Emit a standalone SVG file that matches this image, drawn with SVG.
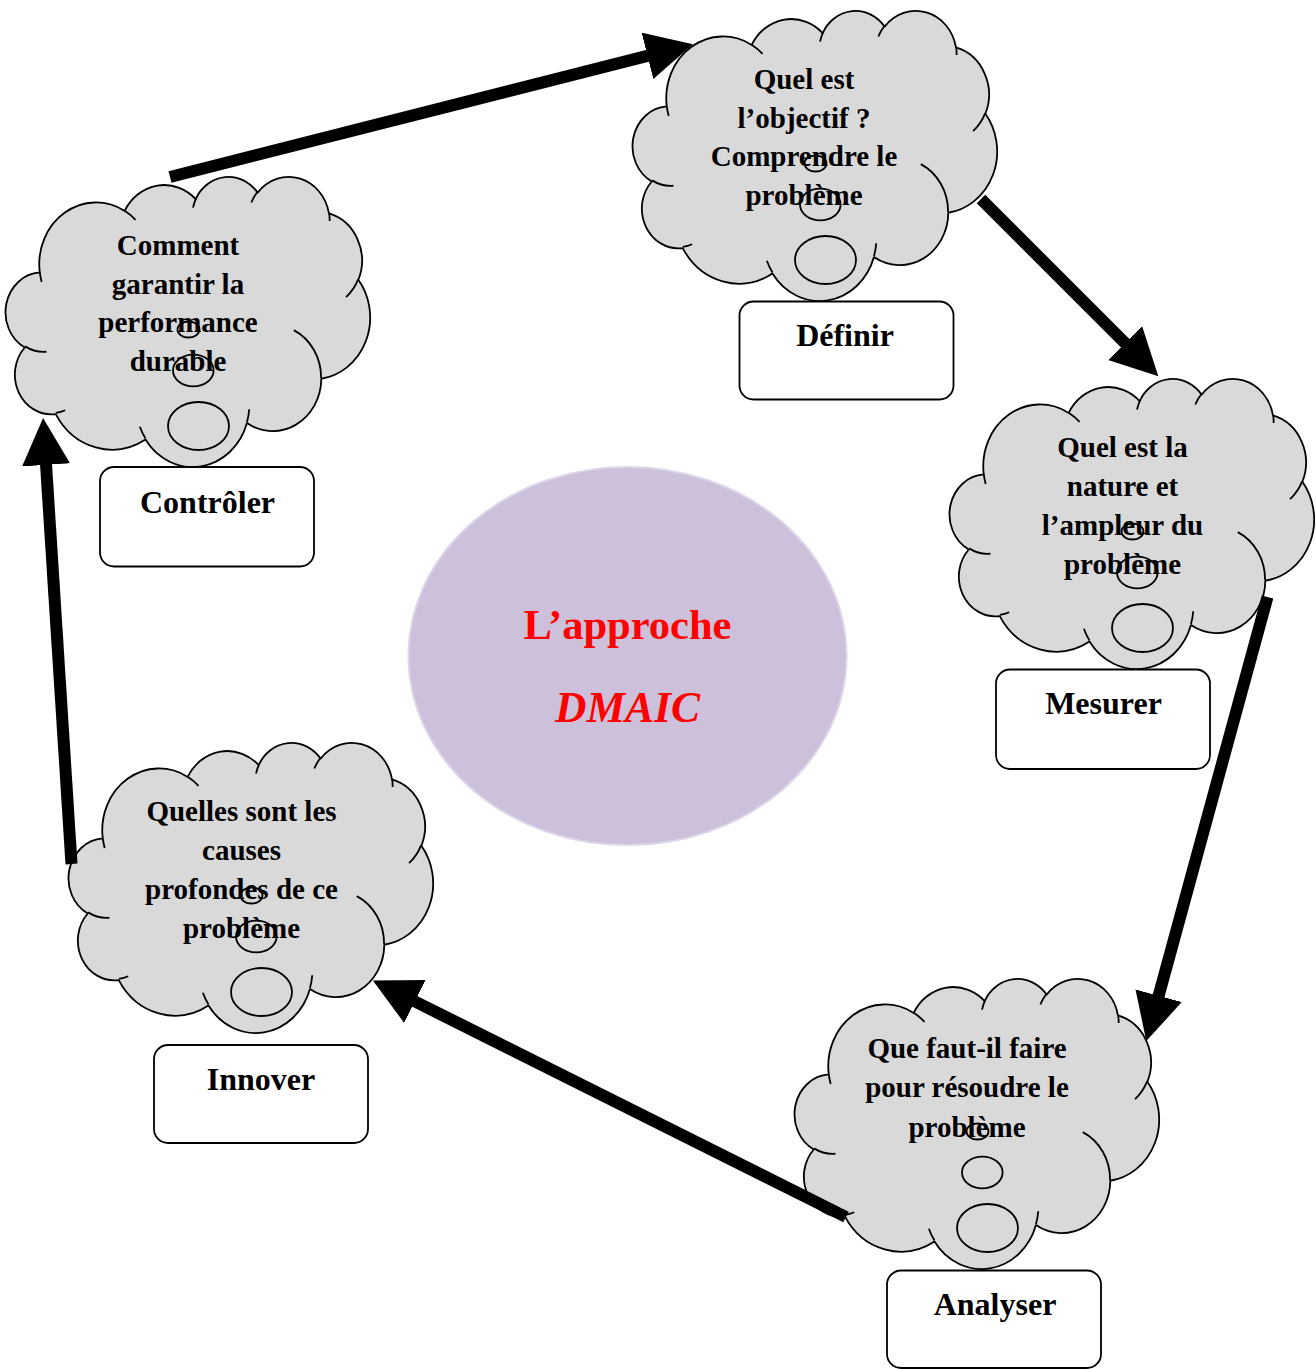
<svg xmlns="http://www.w3.org/2000/svg" xmlns:xlink="http://www.w3.org/1999/xlink" width="1316" height="1369" viewBox="0 0 1316 1369">
<style>
.cl{fill:#d9d9d9;stroke:#000;stroke-width:1.8;stroke-linejoin:round}
.in{fill:none;stroke:#000;stroke-width:1.8}
.bub{fill:none;stroke:#000;stroke-width:1.8}
.ct{font-family:"Liberation Serif","Times New Roman",serif;font-weight:bold;font-size:29px;text-anchor:middle;fill:#000}
.lb{font-family:"Liberation Serif","Times New Roman",serif;font-weight:bold;font-size:32px;text-anchor:middle;fill:#000}
.box{fill:#fff;stroke:#000;stroke-width:1.8}
.arr{stroke:#000;stroke-width:12;fill:none;marker-end:url(#ah)}
.mid{font-family:"Liberation Serif","Times New Roman",serif;font-weight:bold;text-anchor:middle;fill:#ff0000}
</style>
<defs>
<marker id="ah" markerUnits="userSpaceOnUse" viewBox="0 -25 48 50" markerWidth="48" markerHeight="50" refX="1" refY="0" orient="auto">
<path d="M0,-24 L47,0 L0,24 Z" fill="#000"/>
</marker>
<g id="cloud">
<path class="cl" d="M32.77,96.47 A56.74,61.69 0 0 1 117.67,34.92 A44.81,48.78 0 0 1 188.69,23.03 A36.68,39.91 0 0 1 250.65,16.62 A40.81,44.27 0 0 1 321.96,37.39 A44.81,48.82 0 0 1 351.37,103.74 A56.93,61.89 0 0 1 314.30,202.74 A48.61,52.81 0 0 1 239.94,247.11 A56.74,61.86 0 0 1 138.48,263.57 A64.87,70.78 0 0 1 48.76,238.09 A36.64,39.73 0 0 1 17.75,171.48 A36.51,39.91 0 0 1 32.77,96.47 Z"/>
<path class="in" d="M39.43,175.73 A36.51,39.91 0 0 1 18.14,170.37 M58.21,234.28 A36.64,39.73 0 0 1 48.90,236.84 M138.46,262.41 A56.74,61.86 0 0 1 132.85,250.72 M242.23,233.29 A56.74,61.86 0 0 1 239.98,246.10 M286.78,154.09 A48.61,52.81 0 0 1 314.10,201.99 M351.22,103.07 A44.81,48.82 0 0 1 339.05,121.04 M322.03,36.42 A40.81,44.27 0 0 1 322.67,44.91 M244.34,26.53 A40.81,44.27 0 0 1 250.57,15.71 M186.05,31.69 A36.68,39.91 0 0 1 189.06,22.35 M117.64,34.85 A56.74,61.69 0 0 1 128.57,43.91 M34.68,105.99 A56.74,61.69 0 0 1 32.78,96.47"/>
<ellipse class="bub" cx="181.5" cy="153.5" rx="11" ry="8"/>
<ellipse class="bub" cx="186.3" cy="194.5" rx="20.3" ry="15.8"/>
<ellipse class="bub" cx="191.5" cy="250" rx="30.5" ry="24"/>
</g>
</defs>
<rect width="1316" height="1369" fill="#fff"/>

<g id="center">
<ellipse cx="627.5" cy="656" rx="219" ry="189" fill="#ccc0da" stroke="#ddd6e8" stroke-width="2"/>
<text class="mid" x="627.5" y="638.5" font-size="42.5">L’approche</text>
<text class="mid" x="627.5" y="721.5" font-size="43.5" font-style="italic">DMAIC</text>
</g>

<g id="definir">
<use xlink:href="#cloud" href="#cloud" x="634" y="10"/>
<text class="ct" x="804" y="89">Quel est</text>
<text class="ct" x="804" y="127.5">l’objectif ?</text>
<text class="ct" x="804" y="166">Comprendre le</text>
<text class="ct" x="804" y="204.5">problème</text>
<rect class="box" x="739.5" y="301.5" width="214" height="98" rx="14"/>
<text class="lb" x="845" y="346">Définir</text>
</g>

<g id="controler">
<use xlink:href="#cloud" href="#cloud" x="7" y="176"/>
<text class="ct" x="178" y="255">Comment</text>
<text class="ct" x="178" y="293.5">garantir la</text>
<text class="ct" x="178" y="332">performance</text>
<text class="ct" x="178" y="370.5">durable</text>
<rect class="box" x="100" y="467" width="214" height="99.5" rx="14"/>
<text class="lb" x="207.5" y="513">Contrôler</text>
</g>

<g id="mesurer">
<use xlink:href="#cloud" href="#cloud" x="951" y="378"/>
<text class="ct" x="1122.5" y="457">Quel est la</text>
<text class="ct" x="1122.5" y="496">nature et</text>
<text class="ct" x="1122.5" y="535">l’ampleur du</text>
<text class="ct" x="1122.5" y="574">problème</text>
<rect class="box" x="996" y="669.5" width="214" height="99.5" rx="14"/>
<text class="lb" x="1103.5" y="714">Mesurer</text>
</g>

<g id="analyser">
<use xlink:href="#cloud" href="#cloud" x="796" y="978"/>
<text class="ct" x="967" y="1057.5">Que faut-il faire</text>
<text class="ct" x="967" y="1097">pour résoudre le</text>
<text class="ct" x="967" y="1136.5">problème</text>
<rect class="box" x="887" y="1270.5" width="214" height="97.5" rx="14"/>
<text class="lb" x="995" y="1315">Analyser</text>
</g>

<g id="innover">
<use xlink:href="#cloud" href="#cloud" x="70" y="742"/>
<text class="ct" x="241.5" y="821">Quelles sont les</text>
<text class="ct" x="241.5" y="860">causes</text>
<text class="ct" x="241.5" y="899">profondes de ce</text>
<text class="ct" x="241.5" y="938">problème</text>
<rect class="box" x="154" y="1045" width="214" height="98" rx="14"/>
<text class="lb" x="261" y="1090">Innover</text>
</g>

<g id="connectors">
<line class="arr" x1="170" y1="177" x2="648.4" y2="55.6"/>
<line class="arr" x1="981" y1="199" x2="1125.8" y2="343.8"/>
<line class="arr" x1="1267.5" y1="597" x2="1158.4" y2="996.7"/>
<line class="arr" x1="846" y1="1217" x2="414" y2="1001"/>
<line class="arr" x1="71.5" y1="864" x2="46" y2="463.9"/>
</g>
</svg>
